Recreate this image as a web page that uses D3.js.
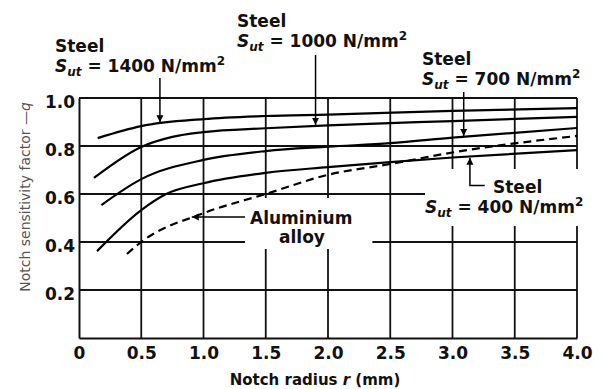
<!DOCTYPE html>
<html>
<head>
<meta charset="utf-8">
<script src="https://cdn.jsdelivr.net/npm/d3@7"></script>
<style>
  body { margin: 0; background: #fff; }
  svg text { font-family: "DejaVu Sans", sans-serif; }
</style>
</head>
<body>
<svg id="chart" width="603" height="389"></svg>
<script>
// notch radius r (mm) vs notch sensitivity q
const steel1400 = [[0.15, 0.833], [0.5, 0.883], [1.0, 0.912], [1.5, 0.925], [2.0, 0.931], [3.0, 0.946], [4.0, 0.958]];
const steel1000 = [[0.12, 0.667], [0.5, 0.796], [0.75, 0.838], [1.0, 0.858], [1.5, 0.874], [2.0, 0.886], [3.0, 0.904], [4.0, 0.921]];
const steel700  = [[0.18, 0.554], [0.5, 0.662], [1.0, 0.742], [1.5, 0.779], [2.0, 0.797], [2.5, 0.812], [3.0, 0.835], [4.0, 0.875]];
const steel400  = [[0.145, 0.362], [0.5, 0.533], [0.7, 0.600], [1.0, 0.645], [1.5, 0.688], [2.0, 0.712], [2.5, 0.733], [3.0, 0.752], [4.0, 0.783]];
const aluminium = [[0.385, 0.350], [0.5, 0.400], [1.0, 0.520], [1.5, 0.600], [2.0, 0.680], [2.5, 0.725], [3.0, 0.773], [4.0, 0.842]];

const rTicks = [0, 0.5, 1.0, 1.5, 2.0, 2.5, 3.0, 3.5, 4.0];
const rLabels = ["0", "0.5", "1.0", "1.5", "2.0", "2.5", "3.0", "3.5", "4.0"];
const qTicks = [0.2, 0.4, 0.6, 0.8, 1.0];
const qLabels = ["0.2", "0.4", "0.6", "0.8", "1.0"];

const margin = { top: 98, right: 26, bottom: 51, left: 79 };
const width = 603 - margin.left - margin.right;
const height = 389 - margin.top - margin.bottom;

const svg = d3.select("#chart");
const g = svg.append("g").attr("transform", `translate(${margin.left},${margin.top})`);

const x = d3.scaleLinear().domain([0, 4]).range([0, width]);
const y = d3.scaleLinear().domain([0, 1]).range([height, 0]);

// grid
g.append("g").selectAll("line").data(rTicks.slice(1)).join("line")
  .attr("x1", d => x(d)).attr("x2", d => x(d))
  .attr("y1", 0).attr("y2", height)
  .attr("stroke", "#111").attr("stroke-width", 1.8);
g.append("g").selectAll("line").data(qTicks).join("line")
  .attr("x1", 0).attr("x2", width)
  .attr("y1", d => y(d)).attr("y2", d => y(d))
  .attr("stroke", "#111").attr("stroke-width", 1.8);

// axes
const xAxis = g.append("g")
  .attr("transform", `translate(0,${height})`)
  .call(d3.axisBottom(x).tickValues(rTicks).tickFormat((d, i) => rLabels[i]).tickSize(0).tickPadding(9));
const yAxis = g.append("g")
  .call(d3.axisLeft(y).tickValues(qTicks).tickFormat((d, i) => qLabels[i]).tickSize(0).tickPadding(4));
[xAxis, yAxis].forEach(a => {
  a.select(".domain").attr("stroke", "#111").attr("stroke-width", 2);
  a.selectAll("text").attr("font-family", "DejaVu Sans").attr("font-weight", "bold")
    .attr("font-size", 17).attr("fill", "#111");
});
yAxis.selectAll("text").attr("dy", "0.55em");

// white patches behind the in-plot labels
const masks = g.append("g");

const line = d3.line().x(d => x(d[0])).y(d => y(d[1])).curve(d3.curveMonotoneX);
const curves = g.append("g");
[steel1400, steel1000, steel700, steel400].forEach(s => {
  curves.append("path").datum(s).attr("d", line)
    .attr("fill", "none").attr("stroke", "#000").attr("stroke-width", 2.2);
});
curves.append("path").datum(aluminium).attr("d", line)
  .attr("fill", "none").attr("stroke", "#000").attr("stroke-width", 2.2)
  .attr("stroke-dasharray", "8,5");

// arrow head
svg.append("defs").append("marker")
  .attr("id", "head").attr("viewBox", "0 0 10 10")
  .attr("refX", 10).attr("refY", 5)
  .attr("markerWidth", 7).attr("markerHeight", 9).attr("markerUnits", "userSpaceOnUse")
  .attr("orient", "auto")
  .append("path").attr("d", "M0,0L10,5L0,10Z").attr("fill", "#000");

const notes = svg.append("g");

function label(px, py, strength, anchor) {
  const t = notes.append("g");
  t.append("text").attr("x", px).attr("y", py).attr("font-size", 17).attr("font-weight", "bold")
    .attr("fill", "#111").text("Steel");
  const s = t.append("text").attr("x", anchor != null ? anchor : px).attr("y", py + 20)
    .attr("font-size", 17).attr("font-weight", "bold").attr("fill", "#111");
  s.append("tspan").attr("font-style", "italic").text("S");
  s.append("tspan").attr("font-style", "italic").attr("font-size", 12).attr("dy", 4).text("ut");
  s.append("tspan").attr("dy", -4).text(` = ${strength} N/mm`);
  s.append("tspan").attr("font-size", 12).attr("dy", -7).text("2");
  return t;
}

label(55, 52, 1400);
label(237, 27, 1000);
label(422, 65, 700);
const lab400 = label(493, 193, 400, 425);

// arrows pointing at curves
const px = r => margin.left + x(r);
const py = q => margin.top + y(q);
function arrowDown(r, q, y0) {
  notes.append("line").attr("x1", px(r)).attr("x2", px(r))
    .attr("y1", y0).attr("y2", py(q) - 1)
    .attr("stroke", "#000").attr("stroke-width", 1.5).attr("marker-end", "url(#head)");
}
arrowDown(0.65, 0.895, 78);
arrowDown(1.9, 0.884, 55);
arrowDown(3.09, 0.838, 92);

// 400 leader (L shape, pointing up)
notes.append("path")
  .attr("d", `M${px(3.5) - 30},${py(0.635)}H${px(3.14)}V${py(0.755) + 1}`)
  .attr("fill", "none").attr("stroke", "#000").attr("stroke-width", 1.5)
  .attr("marker-end", "url(#head)");

// aluminium label
const al = notes.append("g");
al.append("text").attr("x", 250).attr("y", 224).attr("font-size", 17).attr("font-weight", "bold")
  .attr("fill", "#111").text("Aluminium");
al.append("text").attr("x", 279).attr("y", 243).attr("font-size", 17).attr("font-weight", "bold")
  .attr("fill", "#111").text("alloy");
notes.append("line").attr("x1", 245).attr("x2", px(0.89) + 2)
  .attr("y1", py(0.5) - 1).attr("y2", py(0.5) - 1)
  .attr("stroke", "#000").attr("stroke-width", 1.5).attr("marker-end", "url(#head)");

// mask rectangles derived from label boxes
function mask(node, l, r, t, b) {
  const bb = node.node().getBBox();
  masks.append("rect")
    .attr("x", bb.x - margin.left - l).attr("y", bb.y - margin.top - t)
    .attr("width", bb.width + l + r).attr("height", bb.height + t + b)
    .attr("fill", "#fff");
}
mask(al, 5, 20, 10, 2);
mask(lab400, 0, 10, 8, 6);

// axis titles
svg.append("text").attr("x", 315).attr("y", 385).attr("text-anchor", "middle")
  .attr("font-size", 15).attr("font-weight", "bold").attr("fill", "#111")
  .call(t => {
    t.append("tspan").text("Notch radius ");
    t.append("tspan").attr("font-style", "italic").text("r");
    t.append("tspan").text(" (mm)");
  });
svg.append("text").attr("transform", "translate(30,197) rotate(-90)").attr("text-anchor", "middle")
  .attr("font-size", 14).attr("fill", "#555")
  .call(t => {
    t.append("tspan").text("Notch sensitivity factor —");
    t.append("tspan").attr("font-style", "italic").text("q");
  });
</script>
</body>
</html>
